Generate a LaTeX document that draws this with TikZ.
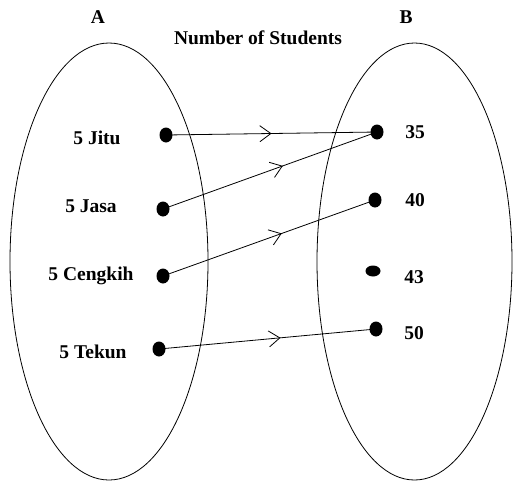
\documentclass[tikz,border=0pt]{standalone}
\usepackage{fontspec}
\setmainfont{Liberation Serif}
\usetikzlibrary{arrows.meta,decorations.markings,shapes.geometric}
\begin{document}
\begin{tikzpicture}[x=1pt,y=-1pt,
  lbl/.style={font=\fontsize{19.5}{19.5}\selectfont\bfseries, inner sep=0pt},
  dotn/.style={ellipse, fill=black, inner sep=0pt, minimum width=13pt, minimum height=15pt},
  mapto/.style={draw, line width=0.8pt, postaction={decorate}, decoration={markings,
    mark=at position #1 with {\arrow{Straight Barb[length=11pt,width=16pt,line width=0.8pt]}}}}
]
\useasboundingbox (0,0) rectangle (513,483);
\draw[line width=0.8pt] (109,261.5) ellipse [x radius=99, y radius=218.5];
\draw[line width=0.8pt] (414.5,261.5) ellipse [x radius=97.5, y radius=218.5];
\node[lbl] (A) at (98,17) {A};
\node[lbl] (B) at (406,17) {B};
\node[lbl] (title) at (258,38) {Number of Students};
\node[lbl] (tj) at (97,138) {5 Jitu};
\node[lbl] (ts) at (91,206) {5 Jasa};
\node[lbl] (tc) at (91,276) {5 Cengkih};
\node[lbl] (tt) at (93,352) {5 Tekun};
\node[lbl] (t35) at (415,132) {35};
\node[lbl] (t40) at (415,200) {40};
\node[lbl] (t43) at (414,277) {43};
\node[lbl] (t50) at (414,333) {50};
\node[dotn] (j) at (166,135) {};
\node[dotn] (s) at (163,209) {};
\node[dotn] (c) at (163,276) {};
\node[dotn] (t) at (159,349) {};
\node[dotn] (b35) at (377,132) {};
\node[dotn] (b40) at (375,200) {};
\node[dotn, minimum width=15pt, minimum height=11pt] (b43) at (373,271) {};
\node[dotn] (b50) at (376,329) {};
\path[mapto=0.5] (j.center) -- (b35.center);
\path[mapto=0.56] (s.center) -- (b35.center);
\path[mapto=0.56] (c.center) -- (b40.center);
\path[mapto=0.56] (t.center) -- (b50.center);
\end{tikzpicture}
\end{document}
